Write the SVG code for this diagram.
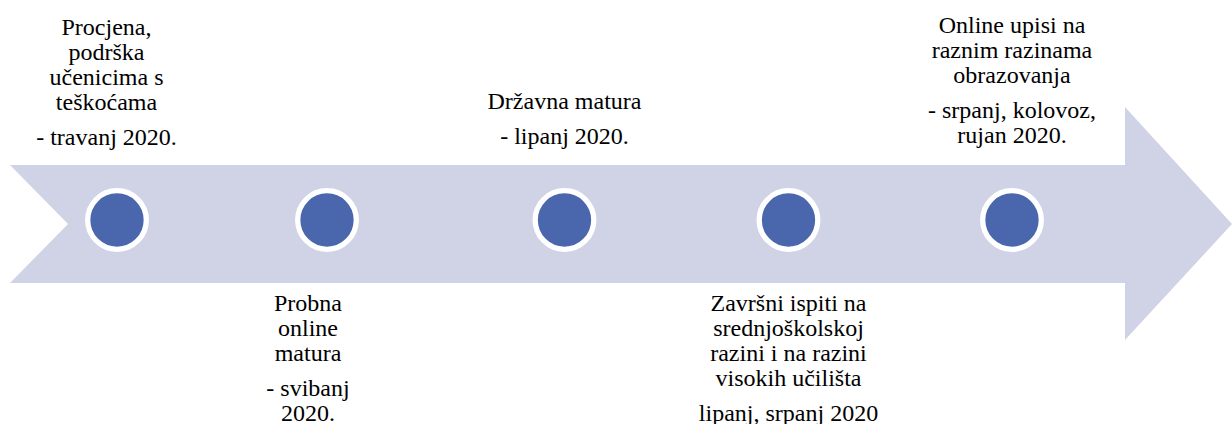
<svg xmlns="http://www.w3.org/2000/svg" width="1232" height="424" viewBox="0 0 1232 424">
  <style>
    .band { fill: #CFD3E5; }
    .dot { fill: #4A66AC; stroke: #FFFFFF; stroke-width: 5.3; }
    .lbl { font-family: 'Liberation Serif', 'DejaVu Serif', serif; font-size: 24px; fill: #000000; text-anchor: middle; }
  </style>
  <rect width="1232" height="424" fill="#FFFFFF"/>
  <g id="connectors">
    <polygon class="band" points="10,165 1125,165 1125,107 1232,224 1125,340 1125,283 10,283 68,224"/>
  </g>
  <g id="node1">
    <circle class="dot" cx="117" cy="220" r="29.3"/>
    <text class="lbl" x="106.5" y="34.5">Procjena,</text>
    <text class="lbl" x="106.5" y="59.7">podrška</text>
    <text class="lbl" x="106.5" y="84.9">učenicima s</text>
    <text class="lbl" x="106.5" y="110">teškoćama</text>
    <text class="lbl" x="106.5" y="144.5">- travanj 2020.</text>
  </g>
  <g id="node2">
    <circle class="dot" cx="327" cy="220" r="29.3"/>
    <text class="lbl" x="308" y="311">Probna</text>
    <text class="lbl" x="308" y="336">online</text>
    <text class="lbl" x="308" y="361">matura</text>
    <text class="lbl" x="308" y="396">- svibanj</text>
    <text class="lbl" x="308" y="421">2020.</text>
  </g>
  <g id="node3">
    <circle class="dot" cx="564.5" cy="220" r="29.3"/>
    <text class="lbl" x="564.5" y="108.5">Državna matura</text>
    <text class="lbl" x="564.5" y="143.5">- lipanj 2020.</text>
  </g>
  <g id="node4">
    <circle class="dot" cx="788.5" cy="220" r="29.3"/>
    <text class="lbl" x="788.5" y="311">Završni ispiti na</text>
    <text class="lbl" x="788.5" y="336">srednjoškolskoj</text>
    <text class="lbl" x="788.5" y="361">razini i na razini</text>
    <text class="lbl" x="788.5" y="386">visokih učilišta</text>
    <text class="lbl" x="788.5" y="421">lipanj, srpanj 2020</text>
  </g>
  <g id="node5">
    <circle class="dot" cx="1012" cy="220" r="29.3"/>
    <text class="lbl" x="1012" y="33">Online upisi na</text>
    <text class="lbl" x="1012" y="58">raznim razinama</text>
    <text class="lbl" x="1012" y="83">obrazovanja</text>
    <text class="lbl" x="1012" y="118">- srpanj, kolovoz,</text>
    <text class="lbl" x="1012" y="143">rujan 2020.</text>
  </g>
</svg>
